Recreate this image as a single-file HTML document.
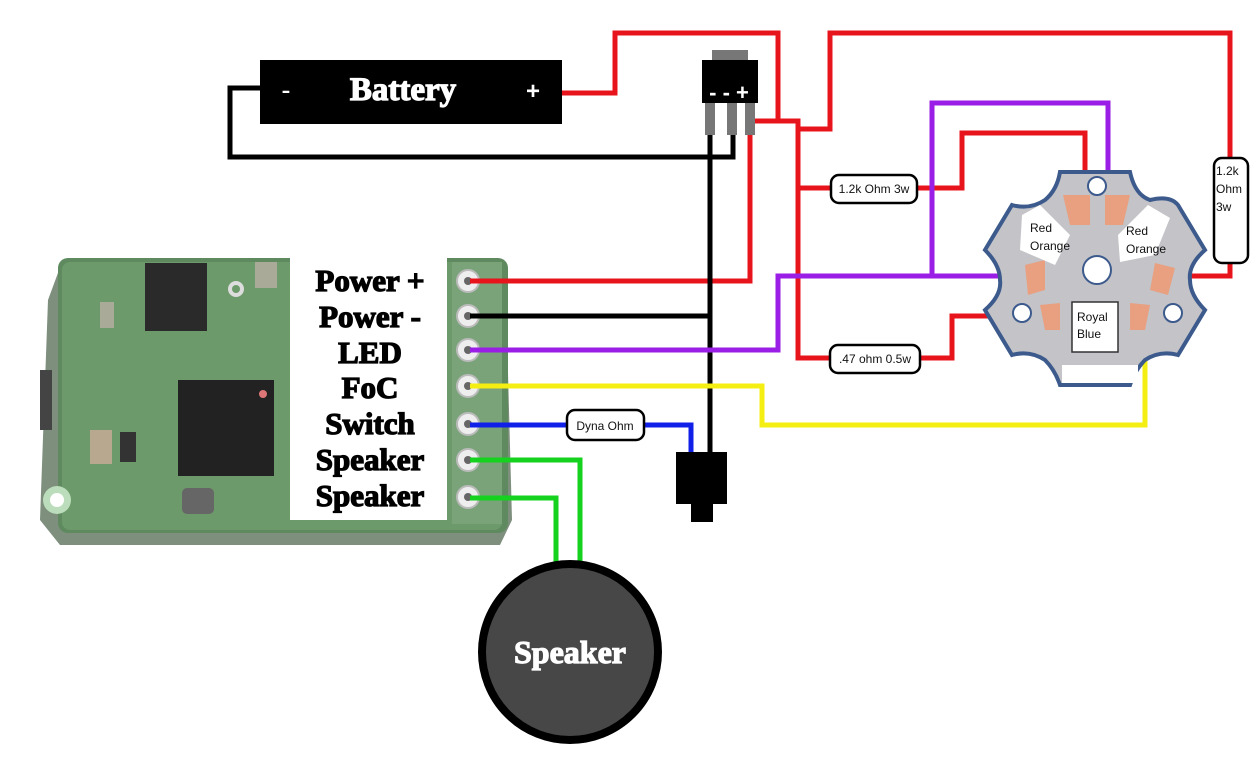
<!DOCTYPE html>
<html><head><meta charset="utf-8"><style>
html,body{margin:0;padding:0;background:#fff;}
svg{display:block;}
.lbl{font-family:"Liberation Serif",serif;font-weight:bold;font-size:31px;fill:#000;stroke:#000;stroke-width:1.3;text-anchor:middle;}
.s{font-family:"Liberation Sans",sans-serif;font-size:12px;fill:#111;}
</style></head><body>
<svg width="1259" height="774" viewBox="0 0 1259 774" xmlns="http://www.w3.org/2000/svg">
<rect width="1259" height="774" fill="#fff"/>
<!-- board -->
<path d="M62 262 L505 262 L512 520 L500 545 L60 545 L40 520 L48 300 Z" fill="#7e8f7e"/>
<rect x="58" y="258" width="450" height="275" rx="10" fill="#5f8a5f"/>
<rect x="62" y="262" width="440" height="268" rx="8" fill="#6d9a6a"/>
<rect x="145" y="263" width="62" height="68" fill="#2a2a2a"/>
<rect x="178" y="380" width="96" height="96" fill="#222"/>
<circle cx="263" cy="394" r="4" fill="#d77"/>
<rect x="90" y="430" width="22" height="34" fill="#b8a890"/>
<rect x="120" y="432" width="16" height="30" fill="#333"/>
<rect x="182" y="488" width="32" height="26" rx="5" fill="#666"/>
<rect x="255" y="262" width="22" height="26" fill="#aa9"/>
<rect x="100" y="302" width="14" height="26" fill="#aa9"/>
<circle cx="236" cy="289" r="8" fill="#ddd"/><circle cx="236" cy="289" r="4" fill="#6d9a6a"/>
<circle cx="57" cy="500" r="14" fill="#bdb"/><circle cx="57" cy="500" r="7" fill="#fff"/>
<rect x="40" y="370" width="12" height="60" fill="#444"/>
<!-- label panel -->
<rect x="290" y="258" width="157" height="262" fill="#fff"/>
<text class="lbl" x="370" y="291">Power +</text>
<text class="lbl" x="370" y="327">Power -</text>
<text class="lbl" x="370" y="363">LED</text>
<text class="lbl" x="370" y="398">FoC</text>
<text class="lbl" x="370" y="434">Switch</text>
<text class="lbl" x="370" y="470">Speaker</text>
<text class="lbl" x="370" y="506">Speaker</text>
<!-- header -->
<rect x="452" y="262" width="50" height="262" fill="#7aa37a"/>
<g fill="#eee" stroke="#bbb" stroke-width="2">
<circle cx="468" cy="281" r="11"/><circle cx="468" cy="316" r="11"/><circle cx="468" cy="350" r="11"/><circle cx="468" cy="386" r="11"/><circle cx="468" cy="424" r="11"/><circle cx="468" cy="460" r="11"/><circle cx="468" cy="497" r="11"/>
</g>
<g fill="#666"><circle cx="468" cy="281" r="4"/><circle cx="468" cy="316" r="4"/><circle cx="468" cy="350" r="4"/><circle cx="468" cy="386" r="4"/><circle cx="468" cy="424" r="4"/><circle cx="468" cy="460" r="4"/><circle cx="468" cy="497" r="4"/></g>

<!-- battery -->
<rect x="260" y="60" width="302" height="64" fill="#000"/>
<text x="286" y="98" fill="#fff" font-family="Liberation Serif" font-weight="bold" font-size="26" text-anchor="middle">-</text>
<text x="403" y="100" fill="#fff" stroke="#fff" stroke-width="1.2" font-family="Liberation Serif" font-weight="bold" font-size="33" text-anchor="middle">Battery</text>
<text x="533" y="99" fill="#fff" font-family="Liberation Sans" font-weight="bold" font-size="24" text-anchor="middle">+</text>

<g fill="none" stroke-width="5" stroke-linejoin="miter">
<polyline stroke="#e8141c" points="562,93 615,93 615,33 778,33 778,121"/>
<polyline stroke="#e8141c" points="755,121 798,121 798,358 830,358"/>
<polyline stroke="#e8141c" points="798,129 830,129 830,33 1230,33 1230,160"/>
<polyline stroke="#e8141c" points="750,135 750,281 470,281"/>
<polyline stroke="#e8141c" points="798,188 832,188"/>
<polyline stroke="#e8141c" points="916,188 962,188 962,133 1085,133 1085,210"/>
<polyline stroke="#e8141c" points="920,358 952,358 952,316 1030,316"/>
<polyline stroke="#e8141c" points="1230,262 1230,276 1160,276"/>
<polyline stroke="#000" points="260,88 230,88 230,157 733,157 733,135"/>
<polyline stroke="#000" points="710,135 710,455"/>
<polyline stroke="#000" points="470,316 710,316"/>
<polyline stroke="#9b1ee6" points="470,350 778,350 778,276 1030,276"/>
<polyline stroke="#9b1ee6" points="932,276 932,103 1108,103 1108,210"/>
<polyline stroke="#f5ee12" points="470,386 762,386 762,425 1145,425 1145,318"/>
<polyline stroke="#1020e8" points="470,425 568,425"/>
<polyline stroke="#1020e8" points="643,425 691,425 691,455"/>
<polyline stroke="#14d21e" points="470,460 580,460 580,570"/>
<polyline stroke="#14d21e" points="470,498 556,498 556,570"/>
</g>

<!-- regulator -->
<rect x="712" y="50" width="36" height="12" fill="#777"/>
<rect x="702" y="60" width="56" height="43" fill="#000"/>
<rect x="705" y="103" width="10" height="32" fill="#777"/>
<rect x="727" y="103" width="10" height="32" fill="#777"/>
<rect x="745" y="103" width="10" height="32" fill="#777"/>
<text x="729" y="100" fill="#fff" font-family="Liberation Sans" font-weight="bold" font-size="22" text-anchor="middle">- - +</text>

<!-- switch -->
<rect x="676" y="452" width="51" height="52" fill="#000"/>
<rect x="691" y="503" width="22" height="19" fill="#000"/>

<!-- resistors -->
<rect x="831" y="175" width="86" height="28" rx="8" fill="#fff" stroke="#000" stroke-width="2.5"/>
<text class="s" x="874" y="193" text-anchor="middle">1.2k Ohm 3w</text>
<rect x="830" y="345" width="90" height="28" rx="8" fill="#fff" stroke="#000" stroke-width="2.5"/>
<text class="s" x="875" y="363" text-anchor="middle">.47 ohm 0.5w</text>
<rect x="567" y="410" width="77" height="30" rx="8" fill="#fff" stroke="#000" stroke-width="2.5"/>
<text class="s" x="605" y="430" text-anchor="middle">Dyna Ohm</text>
<rect x="1214" y="158" width="34" height="105" rx="8" fill="#fff" stroke="#000" stroke-width="2.5"/>
<text class="s" x="1216" y="175">1.2k</text>
<text class="s" x="1216" y="193">Ohm</text>
<text class="s" x="1216" y="211">3w</text>

<!-- LED star -->
<path d="M1060 172 L1130 172 Q1135 195 1150 200 Q1170 195 1178 205 L1205 250 Q1188 265 1190 280 Q1190 295 1205 310 L1178 355 Q1160 350 1145 360 Q1135 370 1130 385 L1060 385 Q1055 370 1045 360 Q1030 350 1012 355 L985 310 Q1002 295 1000 280 Q1000 265 985 250 L1012 205 Q1030 210 1045 200 Q1057 190 1060 172 Z" fill="#c3c3c8" stroke="#3c5a8c" stroke-width="4"/>
<circle cx="1097" cy="186" r="9" fill="#fff" stroke="#3c5a8c" stroke-width="2"/>
<circle cx="1097" cy="270" r="14" fill="#fff" stroke="#3c5a8c" stroke-width="2"/>
<circle cx="1022" cy="313" r="9" fill="#fff" stroke="#3c5a8c" stroke-width="2"/>
<circle cx="1173" cy="313" r="9" fill="#fff" stroke="#3c5a8c" stroke-width="2"/>
<g fill="#e8a080">
<path d="M1063 195 L1090 195 L1090 225 L1070 225 Z"/><path d="M1105 195 L1130 195 L1123 225 L1105 225 Z"/>
<path d="M1025 265 L1045 260 L1045 290 L1028 295 Z"/><path d="M1155 263 L1175 268 L1168 295 L1150 290 Z"/>
<path d="M1040 305 L1060 303 L1060 330 L1045 330 Z"/><path d="M1130 303 L1150 305 L1145 330 L1130 330 Z"/>
</g>
<path d="M1022 215 L1040 205 L1070 235 L1055 265 L1020 250 Z" fill="#fff"/>
<path d="M1148 205 L1170 218 L1155 255 L1120 262 L1118 235 Z" fill="#fff"/>
<rect x="1072" y="302" width="46" height="50" fill="#fff" stroke="#333" stroke-width="1.5"/>
<text class="s" x="1030" y="232">Red</text><text class="s" x="1030" y="250">Orange</text>
<text class="s" x="1126" y="235">Red</text><text class="s" x="1126" y="253">Orange</text>
<text class="s" x="1077" y="321">Royal</text><text class="s" x="1077" y="338">Blue</text>
<rect x="1062" y="365" width="76" height="18" fill="#fff"/>

<!-- speaker -->
<circle cx="570" cy="652" r="88" fill="#474747" stroke="#000" stroke-width="8"/>
<text x="570" y="663" fill="#fff" stroke="#fff" stroke-width="1.2" font-family="Liberation Serif" font-weight="bold" font-size="32" text-anchor="middle">Speaker</text>
</svg>
</body></html>
